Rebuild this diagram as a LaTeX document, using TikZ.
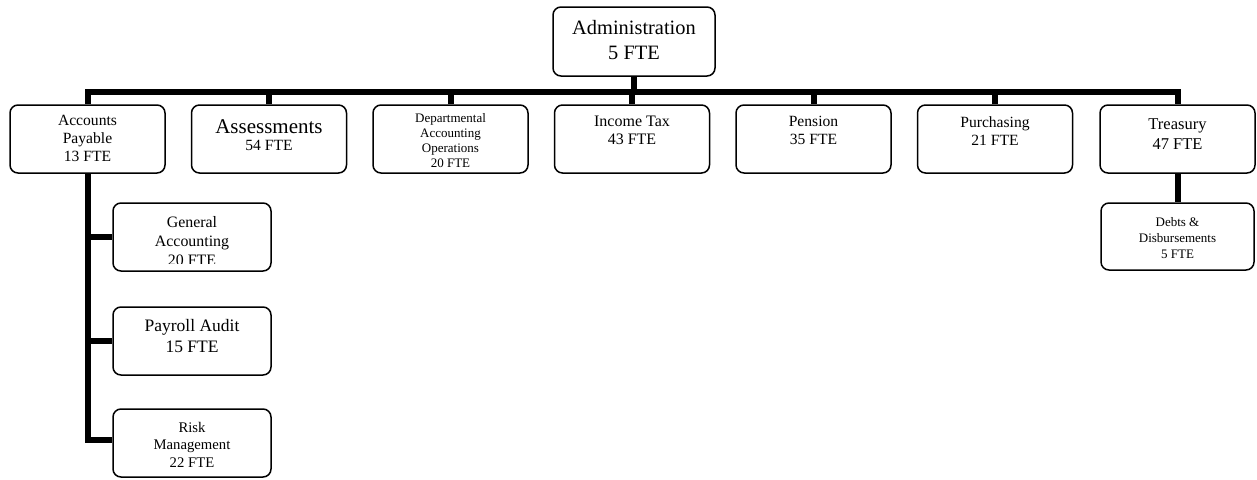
\documentclass[tikz,border=0pt]{standalone}
\usepackage{fontspec}
\setmainfont{Liberation Serif}
\newcommand{\fs}[2]{\fontsize{#1}{#2}\selectfont}
\tikzset{
  unit box/.style={draw=black, line width=1.5pt, rounded corners=8pt,
    minimum width=155pt, minimum height=68pt, inner sep=0pt},
  label text/.style={anchor=north, align=center, inner sep=0pt},
  conn/.style={line width=6pt, line join=miter},
}
\begin{document}
\begin{tikzpicture}[x=1pt, y=-1pt]
\useasboundingbox (0,0) rectangle (1257,479);

% top of the chart
\node[unit box, minimum width=162pt, minimum height=69pt] (admin) at (634,41.5) {};
\node[label text, font=\fs{20.4}{25}] (adminT) at (634,19.7) {Administration\\5 FTE};

% first row of divisions
\node[unit box] (acct)  at (87.5,139) {};
\node[unit box] (asmt)  at (269,139) {};
\node[unit box] (dept)  at (450.5,139) {};
\node[unit box] (inc)   at (632,139) {};
\node[unit box] (pens)  at (813.5,139) {};
\node[unit box] (purch) at (995,139) {};
\node[unit box] (treas) at (1177.5,139) {};

\node[label text, font=\fs{15.6}{18}] (acctT) at (87.5,115.4) {Accounts\\Payable\\13 FTE};
\node[label text, font=\fs{21}{24}] (asmtT) at (269,119.4) {Assessments};
\node[label text, font=\fs{15.6}{18}] (asmtN) at (269,140.4) {54 FTE};
\node[label text, font=\fs{13}{15}] (deptT) at (450.5,113.3) {Departmental\\Accounting\\Operations\\20 FTE};
\node[label text, font=\fs{16}{18}] (incT) at (632,116) {Income Tax\\43 FTE};
\node[label text, font=\fs{15.6}{18}] (pensT) at (813.5,116.4) {Pension\\35 FTE};
\node[label text, font=\fs{15.6}{18}] (purchT) at (995,116.4) {Purchasing\\21 FTE};
\node[label text, font=\fs{16.5}{20}] (treasT) at (1177.5,118) {Treasury\\47 FTE};

% units under Accounts Payable
\node[unit box, minimum width=158pt] (gen)  at (192,237) {};
\node[unit box, minimum width=158pt] (pay)  at (192,341) {};
\node[unit box, minimum width=158pt] (risk) at (192,443) {};
% the last line of this box is cut off by the box's lower edge
\begin{scope}
  \clip (gen.north west) rectangle ([yshift=8pt]gen.south east);
  \node[label text, font=\fs{15.9}{19}] (genT) at (192,216.3) {General\\Accounting\\20 FTE};
\end{scope}
\node[label text, font=\fs{17.5}{21}] (payT) at (192,318.7) {Payroll Audit\\15 FTE};
\node[label text, font=\fs{14.7}{17.5}] (riskT) at (192,421.7) {Risk\\Management\\22 FTE};

% unit under Treasury
\node[unit box, minimum width=153pt, minimum height=67pt] (debt) at (1177.5,236.5) {};
\node[label text, font=\fs{13}{16}] (debtT) at (1177.5,217.3) {Debts \&\\Disbursements\\5 FTE};

% connectors
\coordinate (bar) at (0,92);
\draw[conn] (admin.south) -- (admin.south |- bar);
\draw[conn] (acct.north) -- (acct.north |- bar) -- (treas.north |- bar) -- (treas.north);
\foreach \b in {asmt,dept,inc,pens,purch}
  \draw[conn] (\b.north) -- (\b.north |- bar);
\draw[conn] (acct.south) |- ([yshift=3pt]risk.west);
\draw[conn] (acct.south |- gen.west) -- (gen.west);
\draw[conn] (acct.south |- pay.west) -- (pay.west);
\draw[conn] (treas.south) -- (debt.north);
\end{tikzpicture}
\end{document}
